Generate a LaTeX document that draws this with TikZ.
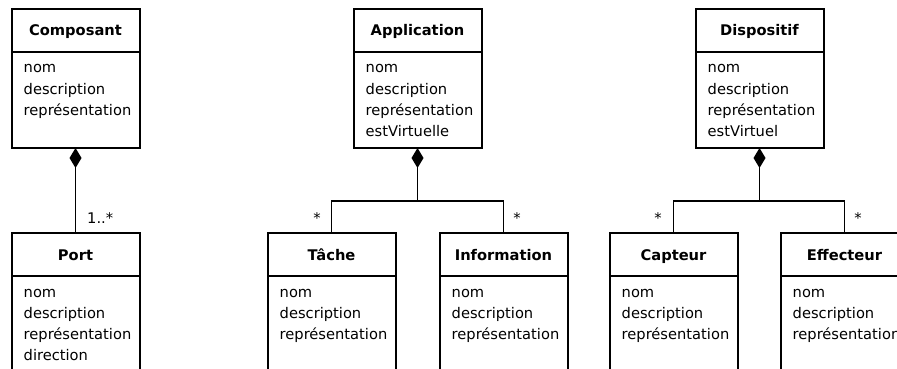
\documentclass[tikz,border=0pt]{standalone}
\usepackage{fontspec}
\setmainfont{DejaVu Sans}
\usetikzlibrary{arrows.meta}
\newcommand{\umlclass}[5]{%
  \node[box] (#1) at (#2,#3) {};
  \draw[line width=2pt] ([yshift=-43pt]#1.north west) -- ([yshift=-43pt]#1.north east);
  \node[ttl] (#1-t) at (#2,#3+27) {#4};
  \foreach \a [count=\i] in {#5} {\node[attr] (#1-a\i) at (#2-52,#3+43+21*\i) {\a};}
}
\begin{document}
\begin{tikzpicture}[x=1pt,y=-1pt,
  box/.style={draw, line width=2pt, minimum width=128pt, minimum height=139pt, anchor=north, inner sep=0pt, outer sep=0pt},
  ttl/.style={font=\fontsize{14.67}{21}\selectfont\bfseries, anchor=base, inner sep=0pt},
  attr/.style={font=\fontsize{14.67}{21}\selectfont, anchor=base west, inner sep=0pt},
  conn/.style={line width=1.6pt},
  compo/.style={{Diamond[length=20pt,width=12pt]}-},
  mult/.style={font=\fontsize{14.67}{21}\selectfont, anchor=base, inner sep=0pt}
]
\useasboundingbox (0,0) rectangle (897,369);
\clip (0,0) rectangle (897,369);

\umlclass{comp}{75.5}{9}{Composant}{nom,description,représentation}
\umlclass{port}{75.5}{233}{Port}{nom,description,représentation,direction}
\umlclass{app}{417.5}{9}{Application}{nom,description,représentation,estVirtuelle}
\umlclass{tache}{331.5}{233}{Tâche}{nom,description,représentation}
\umlclass{info}{503.5}{233}{Information}{nom,description,représentation}
\umlclass{disp}{759.5}{9}{Dispositif}{nom,description,représentation,estVirtuel}
\umlclass{capt}{673.5}{233}{Capteur}{nom,description,représentation}
\umlclass{eff}{844.5}{233}{Effecteur}{nom,description,représentation}

\draw[conn,compo] (comp.south) -- (port.north);
\node[mult, anchor=base west] (m1) at (87,223.5) {1..*};

\coordinate (aj) at (417.5,201);
\draw[conn,compo] (app.south) -- (aj);
\draw[conn] (aj) -| (tache.north);
\draw[conn] (aj) -| (info.north);
\node[mult] (m2) at (317,223.5) {*};
\node[mult] (m3) at (517,223.5) {*};

\coordinate (dj) at (759.5,201);
\draw[conn,compo] (disp.south) -- (dj);
\draw[conn] (dj) -| (capt.north);
\draw[conn] (dj) -| (eff.north);
\node[mult] (m4) at (658,223.5) {*};
\node[mult] (m5) at (858,223.5) {*};
\end{tikzpicture}
\end{document}
